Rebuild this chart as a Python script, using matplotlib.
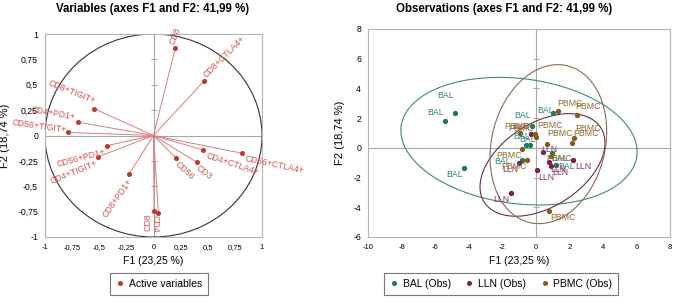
import matplotlib
matplotlib.use("Agg")
import matplotlib.pyplot as plt
from matplotlib.patches import Ellipse, Circle
from matplotlib.lines import Line2D
import numpy as np

plt.rcParams['font.family'] = ['Liberation Sans', 'DejaVu Sans']

# ---------------- data: variables (correlation circle) ----------------
var_names = ["CD8", "CD8+CTLA4+", "CD8+TIGIT+", "CD4+PD1+", "CD56+TIGIT+",
             "CD56+PD1+", "CD4+TIGIT+", "CD8+PD1+", "CD56", "CD3",
             "CD4+CTLA4+", "CD56+CTLA4+", "CD4", "CD8"]
var_f1 = [0.20, 0.465, -0.545, -0.70, -0.785, -0.43, -0.51, -0.226, 0.21, 0.40,
          0.46, 0.815, 0.045, 0.005]
var_f2 = [0.86, 0.537, 0.264, 0.133, 0.03, -0.10, -0.21, -0.38, -0.225, -0.264,
          -0.143, -0.175, -0.767, -0.74]

# ---------------- data: observations ----------------
bal_f1 = [-5.40, -4.83, -4.29, -0.20, 1.03, -0.56, -0.32, -0.80, 0.95, 1.23]
bal_f2 = [1.84, 2.33, -1.37, 1.48, 2.33, 0.16, 0.16, -0.85, -0.36, -1.14]
lln_f1 = [-1.45, 0.10, 2.22, 0.80, 0.90, -1.01, -0.26, 0.44]
lln_f2 = [-3.05, -1.52, -0.85, -0.96, -1.21, -0.99, 0.92, -0.29]
pbmc_f1 = [1.33, 2.48, 2.28, 2.16, 0.00, 0.64, -0.95, -0.80, -0.50, 0.80, 0.93, -0.06]
pbmc_f2 = [2.49, 2.20, 0.69, 0.36, 0.76, 0.27, 0.99, -0.09, -0.85, -4.22, -0.58, 0.92]

# confidence ellipses: center x, center y, width, height, angle
ell_bal = (-1.0, 0.45, 14.2, 8.4, -9)
ell_lln = (0.4, -1.15, 8.6, 5.4, 40)
ell_pbmc = (0.75, 0.25, 10.8, 6.8, 80)

title_left = "Variables (axes F1 and F2: 41,99 %)"
title_right = "Observations (axes F1 and F2: 41,99 %)"
xlab = "F1 (23,25 %)"
ylab = "F2 (18,74 %)"

# ---------------- styles ----------------
red_line = "#e07b7b"
red_pt = "#c0392b"
red_txt = "#d9534f"
c_bal, c_lln, c_pbmc = "#1f7a5c", "#7a1f4e", "#8a5a1c"
t_bal, t_lln, t_pbmc = "#2f8a70", "#8e2f68", "#8f6a2a"
e_bal, e_lln, e_pbmc = "#3f8a7c", "#6a2d4c", "#8c6a4c"
grid_c = "#a8a8a8"

# label placement for variables: (dx pts, dy pts, rotation, ha, va)
var_lab = [(1, 2, 70, 'left', 'bottom'),
           (3, 1, 45, 'left', 'bottom'),
           (-1, 2, -22, 'right', 'bottom'),
           (-2, 0.5, -10, 'right', 'bottom'),
           (-2, -1.5, -8, 'right', 'bottom'),
           (-2, -1, 15, 'right', 'top'),
           (-2, -1, 22, 'right', 'top'),
           (-2, -2, 55, 'right', 'top'),
           (2, -1, -42, 'left', 'top'),
           (2, -1, -38, 'left', 'top'),
           (3, -1, -18, 'left', 'top'),
           (3, -1, -12, 'left', 'top'),
           (1, -1, -90, 'left', 'top'),
           (-1, -2, 90, 'right', 'bottom')]

fig = plt.figure(figsize=(6.76, 3.08), dpi=100)
W, H = 676, 308

def ax_rect(x0, x1, y0, y1):
    return [x0 / W, 1 - y1 / H, (x1 - x0) / W, (y1 - y0) / H]

# ================= left plot =================
ax1 = fig.add_axes(ax_rect(45, 262, 34, 237))
ax1.set_xlim(-1, 1)
ax1.set_ylim(-1, 1)
ax1.axhline(0, color=grid_c, lw=0.8, zorder=1)
ax1.axvline(0, color=grid_c, lw=0.8, zorder=1)
yt1 = [1, 0.75, 0.5, 0.25, 0, -0.25, -0.5, -0.75, -1]
ax1.plot([0] * len(yt1), yt1, ls='none', marker='_', ms=5, color=grid_c, mew=0.8, zorder=1)
ax1.add_patch(Circle((0, 0), 1, fill=False, ec="#333333", lw=0.8, zorder=2))
for x, y in zip(var_f1, var_f2):
    ax1.plot([0, x], [0, y], color=red_line, lw=0.7, zorder=3)
ax1.plot(var_f1, var_f2, ls='none', marker='o', ms=2.6, color=red_pt, zorder=4)
for name, x, y, (dx, dy, rot, ha, va) in zip(var_names, var_f1, var_f2, var_lab):
    ax1.annotate(name, (x, y), xytext=(dx, dy), textcoords='offset points',
                 rotation=rot, rotation_mode='anchor', ha=ha, va=va,
                 fontsize=6.3, color=red_txt, zorder=5, annotation_clip=False)

def fmt_c(v):
    return ('%g' % v).replace('.', ',')

xt1 = [-1, -0.75, -0.5, -0.25, 0, 0.25, 0.5, 0.75, 1]
ax1.set_xticks(xt1)
ax1.set_xticklabels([fmt_c(v) for v in xt1], fontsize=5.5)
ax1.set_yticks(yt1)
ax1.set_yticklabels([fmt_c(v) for v in yt1], fontsize=6.3)
ax1.tick_params(length=0, pad=5)
for s in ax1.spines.values():
    s.set_color("#b5b5b5")
    s.set_linewidth(0.8)
ax1.set_xlabel(xlab, fontsize=7.5, labelpad=4)
ax1.set_ylabel(ylab, fontsize=8, labelpad=6)
fig.text(153 / W, 1 - 9 / H, title_left, ha='center', va='center',
         fontsize=8.3, fontweight='bold')

# ================= right plot =================
ax2 = fig.add_axes(ax_rect(368, 670, 29, 237))
ax2.set_xlim(-10, 8)
ax2.set_ylim(-6, 8)
ax2.axhline(0, color=grid_c, lw=0.8, zorder=1)
ax2.axvline(0, color=grid_c, lw=0.8, zorder=1)
yt2 = [8, 6, 4, 2, 0, -2, -4, -6]
ax2.plot([0] * len(yt2), yt2, ls='none', marker='_', ms=5, color=grid_c, mew=0.8, zorder=1)

for (cx, cy, w, h, a), ec in [(ell_bal, e_bal), (ell_lln, e_lln), (ell_pbmc, e_pbmc)]:
    ax2.add_patch(Ellipse((cx, cy), w, h, angle=a, fill=False, ec=ec, lw=0.8, zorder=2))

# label offsets (pixels) per point
bal_off = [(-10, 8), (-9, 18), (-9, -6), (-10, 10), (-7, 3), (-5, 9), (-3, 6), (-20, -1), (8, -5), (10, -2)]
lln_off = [(-10, -6), (9, -7), (10, -6), (11, -10), (7, -4), (-9, -7), (-10, 8), (6, 3)]
pbmc_off = [(12, 7), (11, 9), (14, 9), (14, 9), (14, 11), (13, 10), (-3, 7), (-13, -6),
            (-13, -6), (14, -7), (8, -2), (-14, 6)]

groups = [(bal_f1, bal_f2, "BAL", c_bal, t_bal, bal_off),
          (lln_f1, lln_f2, "LLN", c_lln, t_lln, lln_off),
          (pbmc_f1, pbmc_f2, "PBMC", c_pbmc, t_pbmc, pbmc_off)]
for xs, ys, name, cp, ct, offs in groups:
    ax2.plot(xs, ys, ls='none', marker='o', ms=2.8, color=cp, zorder=4)
    for x, y, (dx, dy) in zip(xs, ys, offs):
        ax2.annotate(name, (x, y), xytext=(dx * 0.72, dy * 0.72), textcoords='offset points',
                     ha='center', va='center', fontsize=6.3, color=ct, zorder=5)

xt2 = list(range(-10, 9, 2))
ax2.set_xticks(xt2)
ax2.set_xticklabels([str(v) for v in xt2], fontsize=5.5)
ax2.set_yticks(yt2)
ax2.set_yticklabels([str(v) for v in yt2], fontsize=6.3)
ax2.tick_params(length=0, pad=5)
for s in ax2.spines.values():
    s.set_color("#b5b5b5")
    s.set_linewidth(0.8)
ax2.set_xlabel(xlab, fontsize=7.5, labelpad=4)
ax2.set_ylabel(ylab, fontsize=8, labelpad=6)
fig.text(504 / W, 1 - 9 / H, title_right, ha='center', va='center',
         fontsize=8.3, fontweight='bold')

# ================= legends =================
h1 = [Line2D([], [], ls='none', marker='o', ms=2.6, color=red_pt)]
fig.legend(h1, ["Active variables"], loc='center', bbox_to_anchor=(159 / W, 1 - 284 / H),
           fontsize=7.5, frameon=True, fancybox=False, edgecolor="#555555",
           handlelength=0.8, handletextpad=0.4, borderpad=0.55)
h2 = [Line2D([], [], ls='none', marker='o', ms=2.6, color=c) for c in (c_bal, c_lln, c_pbmc)]
fig.legend(h2, ["BAL (Obs)", "LLN (Obs)", "PBMC (Obs)"], loc='center',
           bbox_to_anchor=(501 / W, 1 - 284 / H), ncol=3,
           fontsize=7.5, frameon=True, fancybox=False, edgecolor="#555555",
           handlelength=0.8, handletextpad=0.4, columnspacing=1.4, borderpad=0.55)
for lg in fig.legends:
    lg.get_frame().set_linewidth(0.8)

fig.savefig("out.png", dpi=100)
